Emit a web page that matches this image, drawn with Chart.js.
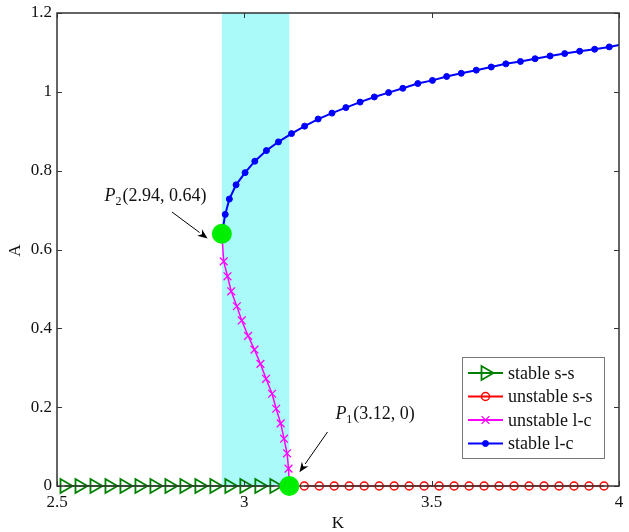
<!DOCTYPE html>
<html>
<head>
<meta charset="utf-8">
<script src="https://cdn.jsdelivr.net/npm/chart.js@4/dist/chart.umd.min.js"></script>
<style>
  html, body { margin: 0; padding: 0; background: #fff; }
  canvas { display: block; }
</style>
</head>
<body>
<canvas id="chart" width="629" height="532"></canvas>
<script>
// stable steady state (K < K1)
const ssStableK = [2.52, 2.56, 2.60, 2.64, 2.68, 2.72, 2.76, 2.80, 2.84, 2.88, 2.92, 2.96, 3.00, 3.04, 3.08];
const ssStableA = [0, 0, 0, 0, 0, 0, 0, 0, 0, 0, 0, 0, 0, 0, 0];

// unstable steady state (K > K1)
const ssUnstableK = [3.16, 3.20, 3.24, 3.28, 3.32, 3.36, 3.40, 3.44, 3.48, 3.52, 3.56, 3.60, 3.64, 3.68, 3.72, 3.76, 3.80, 3.84, 3.88, 3.92, 3.96];
const ssUnstableA = [0, 0, 0, 0, 0, 0, 0, 0, 0, 0, 0, 0, 0, 0, 0, 0, 0, 0, 0, 0, 0];

// unstable limit cycle, from P2 down to P1
const lcUnstableK = [2.94, 2.945, 2.955, 2.965, 2.98, 2.993, 3.01, 3.027, 3.043, 3.058, 3.074, 3.085, 3.097, 3.106, 3.114, 3.118, 3.12];
const lcUnstableA = [0.64, 0.57, 0.532, 0.494, 0.456, 0.42, 0.381, 0.346, 0.31, 0.272, 0.234, 0.196, 0.159, 0.12, 0.083, 0.044, 0];

// stable limit cycle amplitude
const lcStableK = [2.942, 2.949, 2.960, 2.978, 3.002, 3.028, 3.059, 3.091, 3.126, 3.161, 3.197, 3.234, 3.271, 3.309, 3.347, 3.385,
  3.423, 3.463, 3.502, 3.540, 3.579, 3.619, 3.659, 3.698, 3.737, 3.776, 3.816, 3.855, 3.895, 3.935, 3.974, 4.0];
const lcStableA = [0.650, 0.689, 0.728, 0.764, 0.795, 0.824, 0.851, 0.873, 0.894, 0.913, 0.931, 0.946, 0.960, 0.974, 0.987, 0.998,
  1.009, 1.021, 1.029, 1.039, 1.047, 1.055, 1.063, 1.071, 1.077, 1.084, 1.091, 1.097, 1.103, 1.108, 1.114, 1.119];

// bifurcation points
const bifK = [3.12, 2.94];
const bifA = [0, 0.64];
const bifNames = ['1', '2'];

const bandK = [2.94, 3.12];

const xTicks = [2.5, 3, 3.5, 4];
const yTicks = [0, 0.2, 0.4, 0.6, 0.8, 1, 1.2];

const seriesNames = ['stable s-s', 'unstable s-s', 'unstable l-c', 'stable l-c'];

const SERIF = '"Liberation Serif", "DejaVu Serif", serif';

function pts(xs, ys) {
  return xs.map((x, i) => ({ x: x, y: ys[i] }));
}

// end points of the l-c branches carry no marker
const lcUnstableRadius = lcUnstableK.map((_, i) => (i === 0 || i === lcUnstableK.length - 1) ? 0 : 5.5);
const lcStableRadius = lcStableK.map((_, i) => i === lcStableK.length - 1 ? 0 : 3);

function arrow(ctx, x1, y1, x2, y2) {
  const ang = Math.atan2(y2 - y1, x2 - x1);
  const len = 10, w = 4;
  ctx.save();
  ctx.strokeStyle = '#000';
  ctx.fillStyle = '#000';
  ctx.lineWidth = 1;
  ctx.beginPath();
  ctx.moveTo(x1, y1);
  ctx.lineTo(x2 - len * Math.cos(ang), y2 - len * Math.sin(ang));
  ctx.stroke();
  ctx.translate(x2, y2);
  ctx.rotate(ang);
  ctx.beginPath();
  ctx.moveTo(0, 0);
  ctx.lineTo(-len, -w);
  ctx.lineTo(-len * 0.7, 0);
  ctx.lineTo(-len, w);
  ctx.closePath();
  ctx.fill();
  ctx.restore();
}

function pointLabel(ctx, x, y, sub, k, a) {
  ctx.save();
  ctx.fillStyle = '#111';
  ctx.textBaseline = 'alphabetic';
  ctx.textAlign = 'left';
  ctx.font = 'italic 18px ' + SERIF;
  ctx.fillText('P', x, y);
  x += ctx.measureText('P').width;
  ctx.font = '12px ' + SERIF;
  ctx.fillText(sub, x, y + 4);
  x += ctx.measureText(sub).width + 1;
  ctx.font = '18px ' + SERIF;
  ctx.fillText('(' + k + ', ' + a + ')', x, y);
  ctx.restore();
}

const decorations = {
  id: 'decorations',
  beforeDatasetsDraw(chart) {
    const { ctx, chartArea: area, scales: { x } } = chart;
    ctx.save();
    ctx.fillStyle = 'rgb(170, 250, 250)';
    const x0 = x.getPixelForValue(bandK[0]);
    const x1 = x.getPixelForValue(bandK[1]);
    ctx.fillRect(x0, area.top, x1 - x0, area.bottom - area.top);
    ctx.restore();
  },
  beforeDatasetDraw(chart, args) {
    if (args.index !== 4) return;
    // axes box with inward ticks, drawn under the bifurcation points
    const { ctx, chartArea: area, scales: { x, y } } = chart;
    ctx.save();
    ctx.strokeStyle = '#333';
    ctx.lineWidth = 1.5;
    ctx.strokeRect(area.left, area.top, area.right - area.left, area.bottom - area.top);
    ctx.lineWidth = 1;
    ctx.beginPath();
    xTicks.forEach(v => {
      const px = Math.round(x.getPixelForValue(v)) + 0.5;
      ctx.moveTo(px, area.bottom); ctx.lineTo(px, area.bottom - 5);
      ctx.moveTo(px, area.top); ctx.lineTo(px, area.top + 5);
    });
    yTicks.forEach(v => {
      const py = Math.round(y.getPixelForValue(v)) + 0.5;
      ctx.moveTo(area.left, py); ctx.lineTo(area.left + 5, py);
      ctx.moveTo(area.right, py); ctx.lineTo(area.right - 5, py);
    });
    ctx.stroke();
    ctx.restore();
  },
  afterDraw(chart) {
    const { ctx, chartArea: area, scales: { x, y } } = chart;

    // annotations
    arrow(ctx, x.getPixelForValue(2.807), y.getPixelForValue(0.695), x.getPixelForValue(2.902), y.getPixelForValue(0.628));
    arrow(ctx, x.getPixelForValue(3.222), y.getPixelForValue(0.137), x.getPixelForValue(3.147), y.getPixelForValue(0.035));
    pointLabel(ctx, x.getPixelForValue(2.627), y.getPixelForValue(0.722), bifNames[1], bifK[1], bifA[1]);
    pointLabel(ctx, x.getPixelForValue(3.243), y.getPixelForValue(0.169), bifNames[0], bifK[0], bifA[0]);

    // axis titles
    ctx.save();
    ctx.fillStyle = '#111';
    ctx.font = '17px ' + SERIF;
    ctx.textAlign = 'center';
    ctx.textBaseline = 'middle';
    ctx.fillText('K', (area.left + area.right) / 2, 524);
    ctx.translate(16, (area.top + area.bottom) / 2 + 1);
    ctx.rotate(-Math.PI / 2);
    ctx.fillText('A', 0, 0);
    ctx.restore();

    // legend box
    const lx = 462, ly = 357, lw = 142, lh = 101;
    ctx.save();
    ctx.fillStyle = '#fff';
    ctx.fillRect(lx, ly, lw, lh);
    ctx.strokeStyle = '#777';
    ctx.lineWidth = 1;
    ctx.strokeRect(lx + 0.5, ly + 0.5, lw, lh);
    chart.data.datasets.slice(0, 4).forEach((ds, i) => {
      const ry = ly + 16 + i * 23.5;
      ctx.strokeStyle = ds.borderColor;
      ctx.lineWidth = 2;
      ctx.beginPath();
      ctx.moveTo(lx + 6, ry);
      ctx.lineTo(lx + 41, ry);
      ctx.stroke();
      ctx.fillStyle = ds.pointBackgroundColor;
      ctx.strokeStyle = ds.pointBorderColor;
      ctx.lineWidth = ds.pointBorderWidth;
      Chart.helpers.drawPoint(ctx, {
        pointStyle: ds.pointStyle,
        radius: Array.isArray(ds.pointRadius) ? ds.pointRadius[1] : ds.pointRadius,
        rotation: ds.pointRotation || 0,
        borderWidth: ds.pointBorderWidth
      }, lx + 23.5, ry);
      ctx.fillStyle = '#111';
      ctx.font = '18px ' + SERIF;
      ctx.textAlign = 'left';
      ctx.textBaseline = 'middle';
      ctx.fillText(seriesNames[i], lx + 46, ry + 1);
    });
    ctx.restore();
  }
};

new Chart(document.getElementById('chart'), {
  type: 'scatter',
  data: {
    datasets: [
      {
        label: seriesNames[0],
        data: pts(ssStableK, ssStableA),
        showLine: true,
        borderColor: 'rgb(0, 128, 0)',
        borderWidth: 1.5,
        pointStyle: 'triangle',
        pointRotation: 90,
        pointRadius: 8,
        pointBorderWidth: 1.8,
        pointBorderColor: 'rgb(0, 128, 0)',
        pointBackgroundColor: 'rgba(0, 0, 0, 0)',
        clip: false
      },
      {
        label: seriesNames[1],
        data: pts(ssUnstableK, ssUnstableA),
        showLine: true,
        borderColor: 'rgb(255, 0, 0)',
        borderWidth: 1.5,
        pointStyle: 'circle',
        pointRadius: 4,
        pointBorderWidth: 1.5,
        pointBorderColor: 'rgb(255, 0, 0)',
        pointBackgroundColor: 'rgba(0, 0, 0, 0)',
        clip: false
      },
      {
        label: seriesNames[2],
        data: pts(lcUnstableK, lcUnstableA),
        showLine: true,
        borderColor: 'rgb(255, 0, 255)',
        borderWidth: 1.5,
        pointStyle: 'crossRot',
        pointRadius: lcUnstableRadius,
        pointBorderWidth: 1.3,
        pointBorderColor: 'rgb(255, 0, 255)',
        pointBackgroundColor: 'rgba(0, 0, 0, 0)',
        clip: false
      },
      {
        label: seriesNames[3],
        data: pts(lcStableK, lcStableA),
        showLine: true,
        borderColor: 'rgb(0, 0, 255)',
        borderWidth: 2,
        pointStyle: 'circle',
        pointRadius: lcStableRadius,
        pointBorderWidth: 1,
        pointBorderColor: 'rgb(0, 0, 255)',
        pointBackgroundColor: 'rgb(0, 0, 255)',
        clip: false
      },
      {
        label: 'bifurcation',
        data: pts(bifK, bifA),
        showLine: false,
        order: -1,
        pointStyle: 'circle',
        pointRadius: 10,
        pointBorderWidth: 0,
        pointBackgroundColor: 'rgb(0, 238, 0)',
        pointBorderColor: 'rgb(0, 238, 0)',
        clip: false
      }
    ]
  },
  options: {
    responsive: false,
    animation: false,
    devicePixelRatio: 1,
    layout: { padding: { top: 13, right: 5, left: 0, bottom: 0 } },
    plugins: {
      legend: { display: false },
      tooltip: { enabled: false }
    },
    scales: {
      x: {
        type: 'linear',
        min: 2.5,
        max: 4,
        afterBuildTicks: s => { s.ticks = xTicks.map(v => ({ value: v })); },
        afterFit: s => { s.height = 46; s.paddingLeft = 0; s.paddingRight = 0; },
        grid: { display: false, drawTicks: false },
        border: { display: false },
        ticks: { color: '#111', font: { family: SERIF, size: 17 }, padding: 6, maxRotation: 0, callback: v => String(v) }
      },
      y: {
        type: 'linear',
        min: 0,
        max: 1.2,
        afterBuildTicks: s => { s.ticks = yTicks.map(v => ({ value: v })); },
        afterFit: s => { s.width = 57; s.paddingTop = 0; s.paddingBottom = 0; },
        grid: { display: false, drawTicks: false },
        border: { display: false },
        ticks: { color: '#111', font: { family: SERIF, size: 17 }, padding: 5, callback: v => String(v) }
      }
    }
  },
  plugins: [decorations]
});
</script>
</body>
</html>
